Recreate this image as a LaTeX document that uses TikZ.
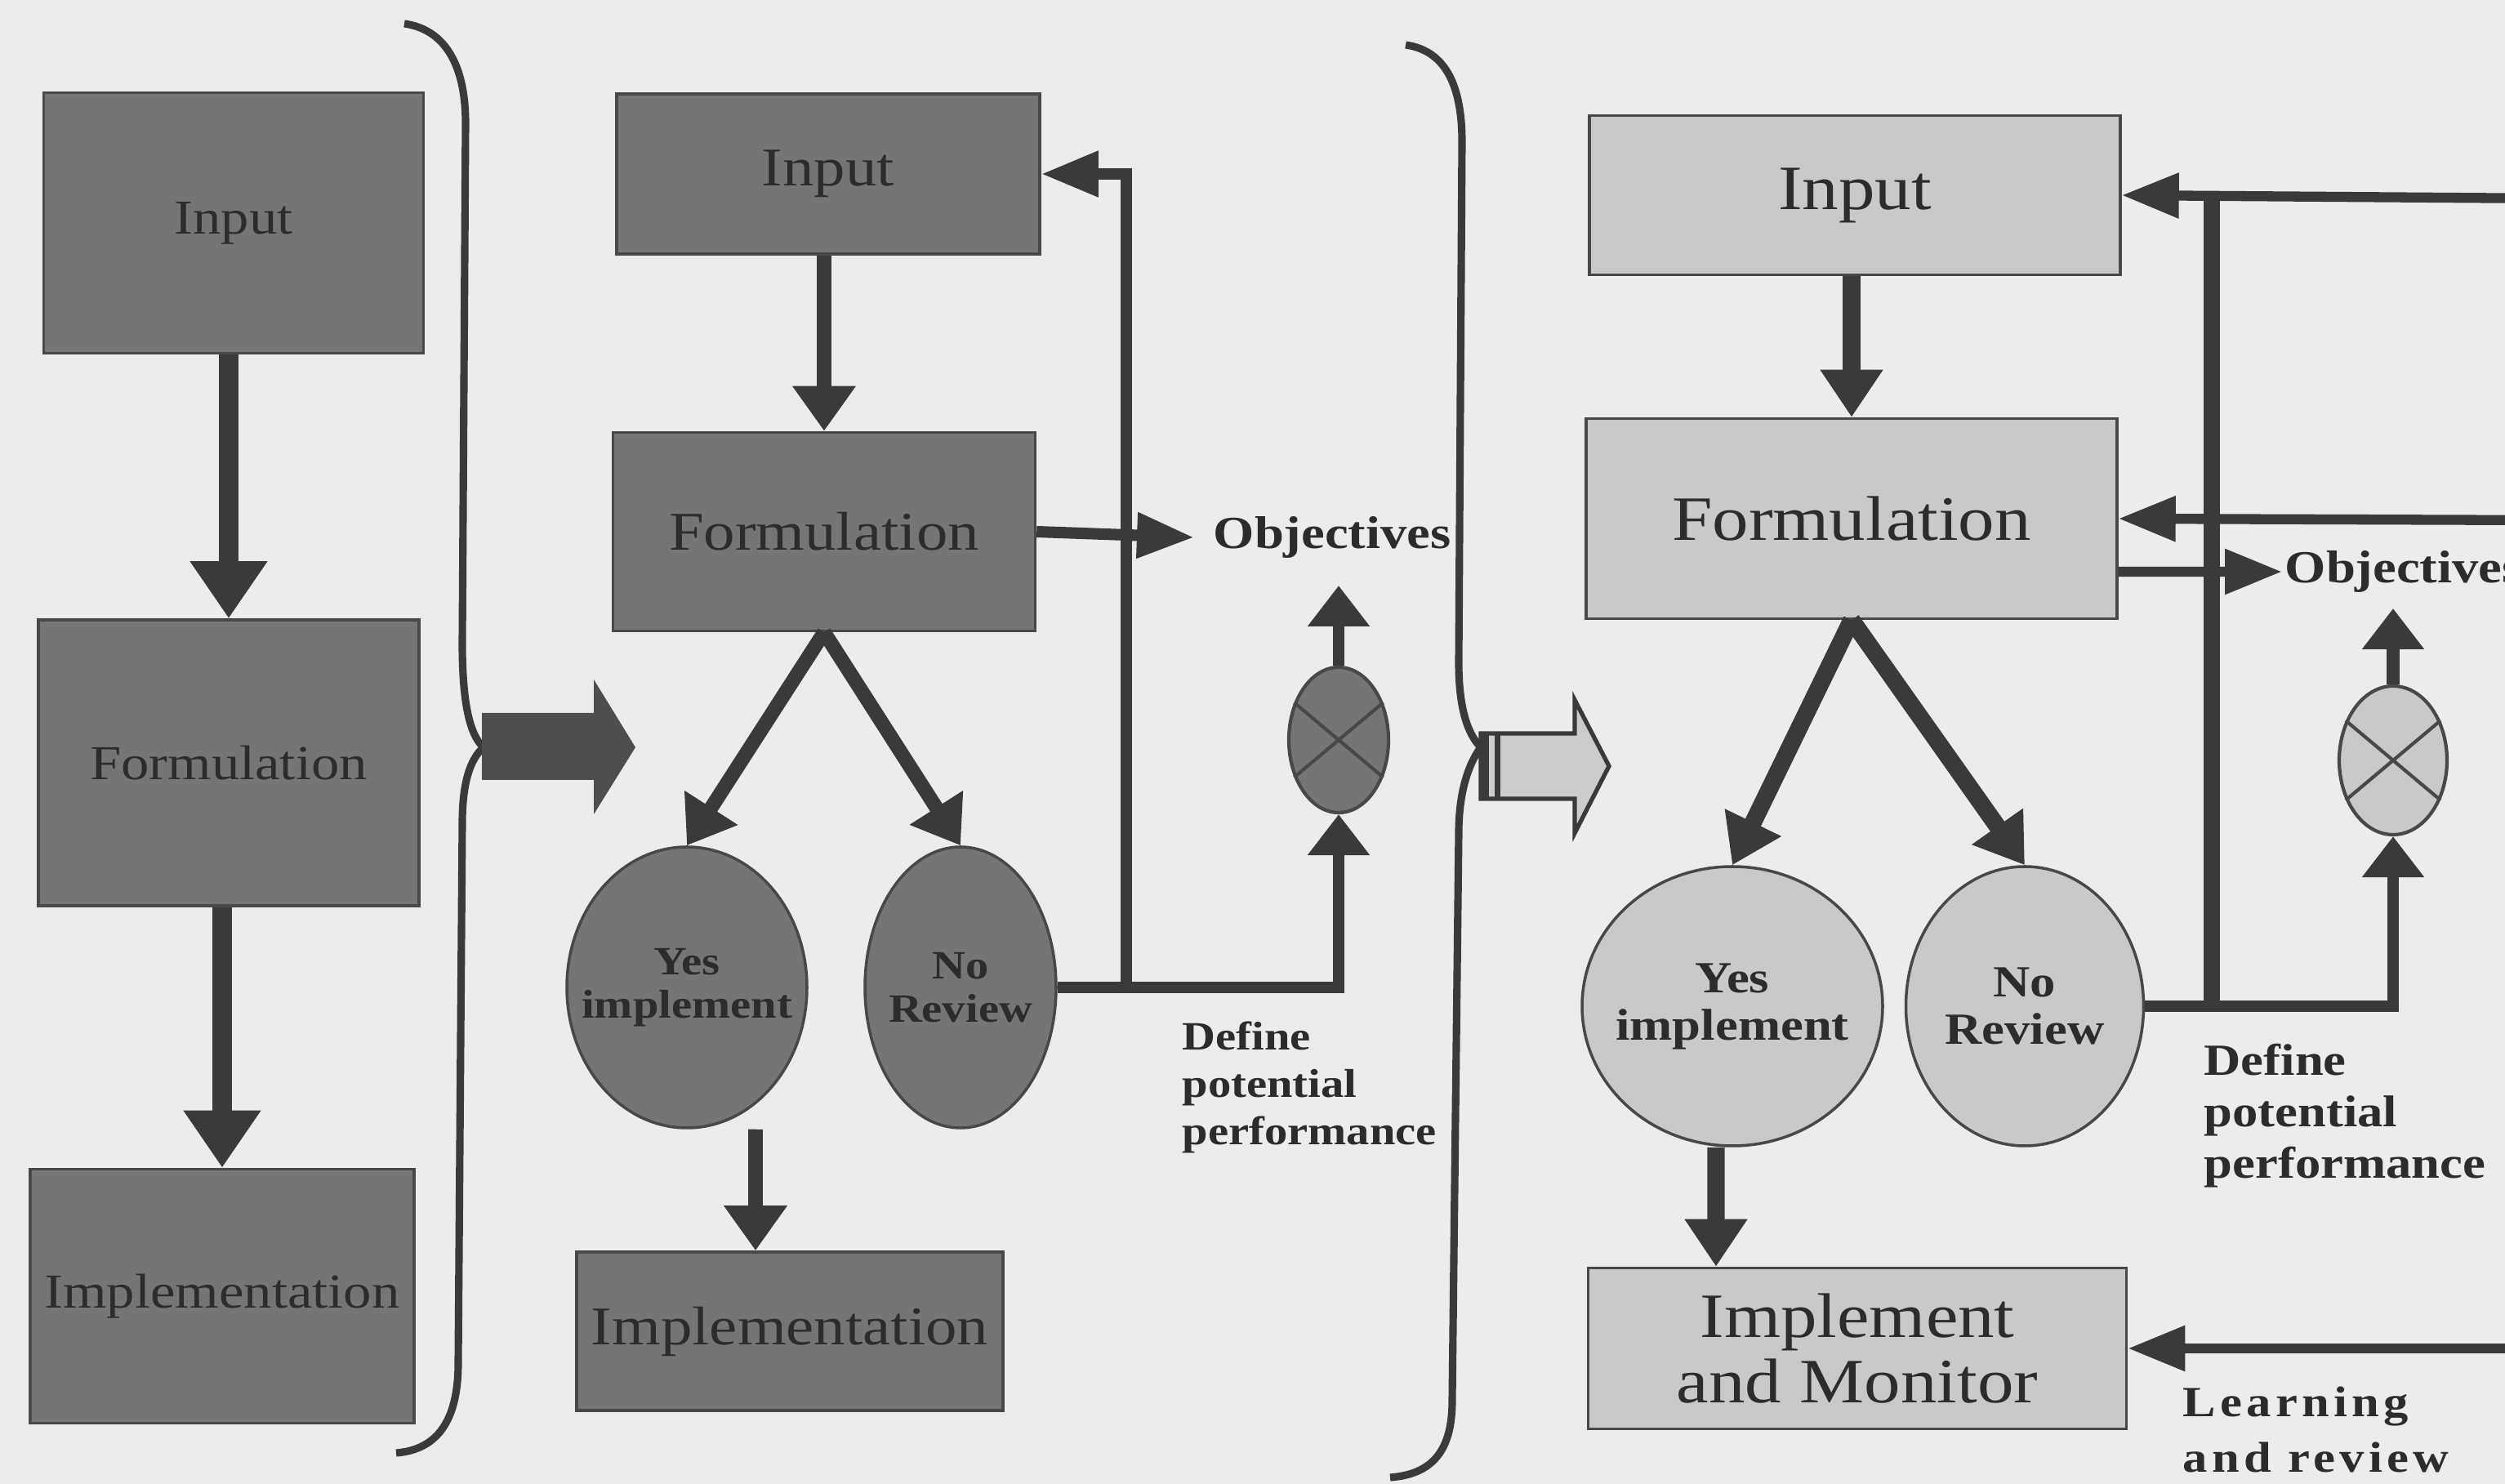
\documentclass[tikz,border=0pt]{standalone}
\usepackage{fontspec}
\setmainfont[FakeStretch=1.15]{Liberation Serif}
\usetikzlibrary{arrows.meta,shapes.geometric}
\definecolor{paper}{RGB}{236,236,234}
\definecolor{darkfill}{RGB}{117,117,117}
\definecolor{lightfill}{RGB}{201,201,201}
\definecolor{boxline}{RGB}{72,72,72}
\definecolor{inkline}{RGB}{58,58,58}
\definecolor{boxtext}{RGB}{44,44,44}

\begin{document}
\begin{tikzpicture}[
  every node/.style={inner sep=0pt},
  box1/.style={draw=boxline, line width=1pt, fill=darkfill, text=boxtext, font=\fontsize{17}{20}\selectfont},
  box2/.style={draw=boxline, line width=1pt, fill=darkfill, text=boxtext, font=\fontsize{19}{22}\selectfont},
  box3/.style={draw=boxline, line width=1pt, fill=lightfill, text=boxtext, align=center, font=\fontsize{22}{23}\selectfont},
  oval2/.style={ellipse, draw=boxline, line width=1pt, fill=darkfill, text=boxtext, align=center, inner xsep=-6mm, font=\bfseries\fontsize{14}{15}\selectfont},
  oval3/.style={ellipse, draw=boxline, line width=1pt, fill=lightfill, text=boxtext, align=center, inner xsep=-6mm, font=\bfseries\fontsize{15.5}{16.5}\selectfont},
  xnode2/.style={ellipse, draw=boxline, line width=1.2pt, fill=darkfill},
  xnode3/.style={ellipse, draw=boxline, line width=1.2pt, fill=lightfill},
  note2/.style={text=boxtext, align=left, font=\bfseries\fontsize{14}{16.5}\selectfont},
  note3/.style={text=boxtext, align=left, font=\bfseries\fontsize{15.5}{18}\selectfont},
  learn/.style={text=boxtext, align=left, font=\bfseries\fontsize{15}{19.5}\selectfont\addfontfeature{LetterSpace=10}},
  arr1/.style={draw=inkline, line width=7pt, -{Triangle[width=9mm, length=7mm]}},
  arr2/.style={draw=inkline, line width=5pt, -{Triangle[width=7.4mm, length=5.5mm]}},
  arr3/.style={draw=inkline, line width=6pt, -{Triangle[width=7.3mm, length=5.8mm]}},
  fb2/.style={draw=inkline, line width=4pt},
  fb3/.style={draw=inkline, line width=3.5pt},
  side/.style={-{Triangle[width=5.3mm, length=7mm]}},
  up/.style={-{Triangle[width=7.3mm, length=5mm]}},
  curl/.style={draw=inkline, line width=2.6pt},
]
\useasboundingbox (0,0) rectangle (30.67,-18.17);
\fill[paper] (0,0) rectangle (30.67,-18.17);

\node[box1, minimum width=4.65cm, minimum height=3.19cm] (input1) at (2.86,-2.73) {Input};
\node[box1, minimum width=4.66cm, minimum height=3.50cm] (form1) at (2.80,-9.34) {Formulation};
\node[box1, minimum width=4.70cm, minimum height=3.11cm] (impl1) at (2.72,-15.87) {Implementation};
\draw[arr1] (input1.south -| form1) -- (form1.north);
\draw[arr1] (form1.south -| impl1) -- (impl1.north);

\draw[curl] (4.95,-0.29) .. controls (5.45,-0.36) and (5.70,-0.80) .. (5.70,-1.51)
  -- (5.66,-7.88) .. controls (5.66,-8.60) and (5.75,-9.00) .. (5.92,-9.15)
  .. controls (5.75,-9.30) and (5.66,-9.60) .. (5.66,-10.08)
  -- (5.61,-16.69) .. controls (5.61,-17.40) and (5.35,-17.75) .. (4.85,-17.79);
\fill[inkline!90] (5.90,-8.73) -- (7.27,-8.73) -- (7.27,-8.32) -- (7.78,-9.15)
  -- (7.27,-9.97) -- (7.27,-9.55) -- (5.90,-9.55) -- cycle;

\node[box2, minimum width=5.18cm, minimum height=1.96cm] (input2) at (10.14,-2.13) {Input};
\node[box2, minimum width=5.17cm, minimum height=2.43cm] (form2) at (10.09,-6.51) {Formulation};
\node[oval2, minimum width=2.94cm, minimum height=3.44cm] (yes2) at (8.41,-12.09) {Yes\\implement};
\node[oval2, minimum width=2.34cm, minimum height=3.44cm] (no2) at (11.76,-12.09) {No\\Review};
\node[box2, minimum width=5.22cm, minimum height=1.94cm] (impl2) at (9.67,-16.30) {Implementation};
\node[xnode2, minimum width=1.22cm, minimum height=1.78cm] (cross2) at (16.39,-9.06) {};
\node[note2, inner xsep=2.3mm, font=\bfseries\fontsize{16}{18}\selectfont, anchor=west] (obj2) at (14.62,-6.58) {Objectives};
\node[note2, anchor=north west] (perf2) at (14.47,-12.50) {Define\\potential\\performance};
\coordinate (split2) at (13.79,-12.09);
\coordinate (top2) at (16.39,-7.17);
\draw[boxline, line width=1.2pt] (cross2.40) -- (cross2.220) (cross2.140) -- (cross2.320);
\draw[arr2] (input2.south -| form2) -- (form2.north);
\draw[arr2] (form2.south) -- (yes2.north);
\draw[arr2] (form2.south) -- (no2.north);
\draw[arr2] ([xshift=8.4mm]yes2.south) -- ([xshift=-4.2mm]impl2.north);
\draw[fb2, side] (no2.east) -- (split2) |- (input2.east);
\draw[fb2, up] (split2) -| (cross2.south);
\draw[fb2, side] (form2.east) -- (obj2.west);
\draw[fb2, up] (cross2.north) -- (top2);

\draw[curl] (17.21,-0.55) .. controls (17.70,-0.62) and (17.90,-1.05) .. (17.90,-1.74)
  -- (17.86,-8.11) .. controls (17.86,-8.70) and (17.98,-9.00) .. (18.13,-9.15)
  .. controls (17.98,-9.35) and (17.86,-9.70) .. (17.86,-10.20)
  -- (17.78,-17.15) .. controls (17.78,-17.75) and (17.55,-18.05) .. (17.02,-18.09);
\filldraw[fill=lightfill!95, draw=inkline, line width=1.5pt] (18.13,-8.98) -- (19.28,-8.98) -- (19.28,-8.57)
  -- (19.70,-9.38) -- (19.28,-10.20) -- (19.28,-9.78) -- (18.13,-9.78) -- cycle;
\fill[inkline] (18.13,-8.98) rectangle (18.23,-9.78);
\fill[inkline] (18.30,-8.98) rectangle (18.37,-9.78);

\node[box3, minimum width=6.50cm, minimum height=1.95cm] (input3) at (22.71,-2.39) {Input};
\node[box3, minimum width=6.50cm, minimum height=2.45cm] (form3) at (22.67,-6.35) {Formulation};
\node[oval3, minimum width=3.68cm, minimum height=3.42cm] (yes3) at (21.21,-12.32) {Yes\\implement};
\node[oval3, minimum width=2.91cm, minimum height=3.42cm] (no3) at (24.79,-12.32) {No\\Review};
\node[box3, minimum width=6.59cm, minimum height=1.97cm] (impl3) at (22.74,-16.51) {Implement\\and Monitor};
\node[xnode3, minimum width=1.32cm, minimum height=1.82cm] (cross3) at (29.30,-9.31) {};
\node[note3, inner xsep=0.3mm, font=\bfseries\fontsize{16}{18}\selectfont, anchor=west] (obj3) at (27.94,-7.00) {Objectives};
\node[note3, anchor=north west] (perf3) at (26.98,-12.77) {Define\\potential\\performance};
\node[learn, anchor=north west] (learn3) at (26.72,-16.97) {Learning\\and review};
\coordinate (split3) at (27.08,-12.32);
\coordinate (top3) at (29.30,-7.45);
\coordinate (edge1) at (31.20,-2.43);
\coordinate (edge2) at (31.20,-6.37);
\coordinate (edge3) at (31.20,-16.51);
\draw[boxline, line width=1.2pt] (cross3.40) -- (cross3.220) (cross3.140) -- (cross3.320);
\draw[arr3] (input3.south -| form3) -- (form3.north);
\draw[arr3] (form3.south) -- (yes3.north);
\draw[arr3] (form3.south) -- (no3.north);
\draw[arr3] ([xshift=-2mm]yes3.south) -- ([xshift=-17.3mm]impl3.north);
\draw[fb3, side] (edge1) -- (input3.east);
\draw[fb3, side] (edge2) -- (form3.east);
\draw[draw=inkline, line width=5.7pt] (split3) -- (split3 |- input3.east);
\draw[fb3, side] ([yshift=-6.5mm]form3.east) -- (obj3.west);
\draw[fb3, line width=4pt, up] (no3.east) -| (cross3.south);
\draw[fb3, line width=4.7pt, up] (cross3.north) -- (top3);
\draw[fb3, side] (edge3) -- (impl3.east);
\end{tikzpicture}
\end{document}
